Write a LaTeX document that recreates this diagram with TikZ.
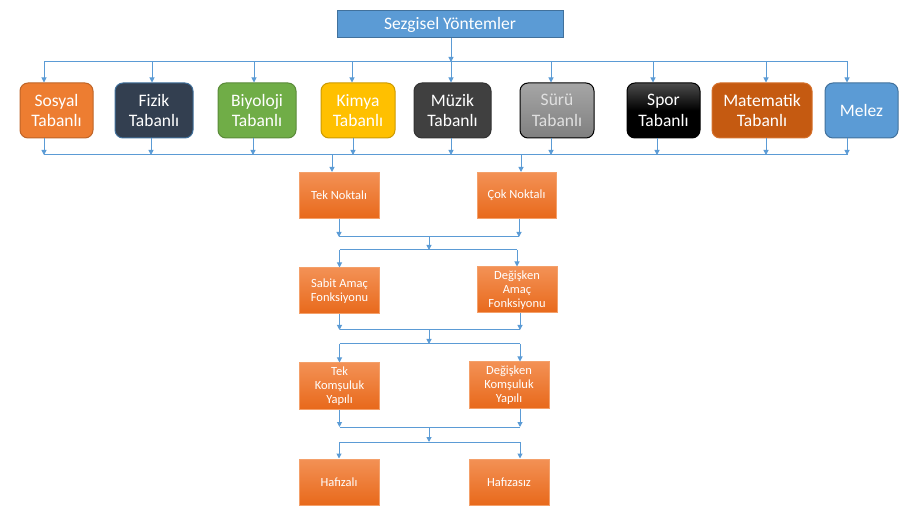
\documentclass[tikz,border=0pt]{standalone}
\usepackage{fontspec}
\setmainfont{Carlito}
\usetikzlibrary{arrows.meta,calc}
\definecolor{linkblue}{HTML}{5B9BD5}
\definecolor{edgeblue}{HTML}{41719C}
\definecolor{sosyalc}{HTML}{ED7D31}
\definecolor{fizikc}{HTML}{333F50}
\definecolor{biyoc}{HTML}{70AD47}
\definecolor{kimyac}{HTML}{FFC000}
\definecolor{muzikc}{HTML}{404040}
\definecolor{matc}{HTML}{C55A11}
\definecolor{orangetop}{HTML}{F39155}
\definecolor{orangebot}{HTML}{E8691B}
\definecolor{orangeedge}{HTML}{F4A06A}
\tikzset{
  arr/.style={draw=linkblue,line width=1pt,-{Triangle[width=5pt,length=5pt]}},
  bus/.style={draw=linkblue,line width=1pt},
  titlebox/.style={rectangle,fill=linkblue,draw=edgeblue,line width=1pt,text=white,
    font=\fontsize{17.5}{20}\selectfont,minimum width=226pt,minimum height=27pt,inner sep=0pt},
  rowbox/.style={rectangle,rounded corners=8pt,line width=1pt,text=white,align=center,
    font=\fontsize{17.5}{20.5}\selectfont,minimum height=55pt,inner sep=0pt},
  sosyalbox/.style={fill=sosyalc,draw=sosyalc!80!black},
  fizikbox/.style={fill=fizikc,draw=edgeblue},
  biyobox/.style={fill=biyoc,draw=biyoc!80!black},
  kimyabox/.style={fill=kimyac,draw=kimyac!80!black},
  muzikbox/.style={fill=muzikc,draw=muzikc!80!black},
  surubox/.style={top color=black!35,bottom color=black!50,draw=black,text=black!12},
  sporbox/.style={top color=black!70,bottom color=black,middle color=black,draw=black},
  matbox/.style={fill=matc,draw=sosyalc!90!black},
  melezbox/.style={fill=linkblue,draw=edgeblue},
  smallbox/.style={rectangle,top color=orangetop,bottom color=orangebot,draw=orangeedge,
    line width=1pt,text=white,align=center,font=\fontsize{12.5}{14}\selectfont,
    minimum width=80pt,minimum height=46pt,inner sep=0pt}
}
\begin{document}
\begin{tikzpicture}[x=1pt,y=-1pt]
\useasboundingbox (0,0) rectangle (910,510);
% top
\node[titlebox] (sezgisel) at (450,24.5) {Sezgisel Yöntemler};
\coordinate (top) at (451,62);
\coordinate (topl) at (44,62);
\coordinate (topr) at (848,62);
\draw[bus] (topl) -- (topr);
\draw[arr] (sezgisel.south -| top) -- (top);
% family row
\foreach \n/\cx/\w/\st/\txt/\xa/\xb in {
  sosyal/56.5/73/sosyalbox/{Sosyal\\Tabanlı}/44/44,
  fizik/154/78/fizikbox/{Fizik\\Tabanlı}/152/151,
  biyoloji/257/78/biyobox/{Biyoloji\\Tabanlı}/254/253,
  kimya/358/74/kimyabox/{Kimya\\Tabanlı}/352/353,
  muzik/452.5/77/muzikbox/{Müzik\\Tabanlı}/451/451,
  suru/557/74/surubox/{Sürü\\Tabanlı}/551/551,
  spor/663.5/73/sporbox/{Spor\\Tabanlı}/653/657,
  matematik/762/100/matbox/{Matematik\\Tabanlı}/766/766,
  melez/861.5/73/melezbox/{Melez}/847/847} {
  \node[rowbox,\st,minimum width=\w pt] (\n) at (\cx,110.5) {\txt};
  \coordinate (t\n) at (\xa,62);
  \coordinate (u\n) at (\xb,155);
  \draw[arr] (t\n) -- (t\n |- \n.north);
  \draw[arr] (u\n |- \n.south) -- (u\n);
}
\coordinate (botl) at (44,155);
\coordinate (botr) at (848,155);
\draw[bus] (botl) -- (botr);
% point count
\node[smallbox] (tek) at (339,195.5) {Tek Noktalı};
\node[smallbox,minimum width=79pt] (cok) at (516.5,195.5) {Çok Noktalı};
\coordinate (d1) at (332,155);
\coordinate (d2) at (521,155);
\draw[arr] (d1) -- (d1 |- tek.north);
\draw[arr] (d2) -- (d2 |- cok.north);
% objective
\node[smallbox] (sabit) at (339.5,291) {Sabit Amaç\\Fonksiyonu};
\node[smallbox] (degamac) at (517,290) {Değişken\\Amaç\\Fonksiyonu};
\coordinate (j1a) at (429,237);
\coordinate (j1b) at (429,250);
\draw[arr] (tek.south) -- (tek.south |- j1a);
\draw[arr] (cok.south) ++(2.5,0) coordinate (c1) -- (c1 |- j1a);
\draw[bus] (tek.south |- j1a) -- (c1 |- j1a);
\draw[arr] (j1a) -- (j1b);
\draw[bus] (sabit.north |- j1b) -- (degamac.north |- j1b);
\draw[arr] (sabit.north |- j1b) -- (sabit.north);
\draw[arr] (degamac.north |- j1b) -- (degamac.north);
% neighbourhood
\node[smallbox] (tekkom) at (339.5,386) {Tek\\Komşuluk\\Yapılı};
\node[smallbox] (degkom) at (509,385) {Değişken\\Komşuluk\\Yapılı};
\coordinate (j2a) at (429,330);
\coordinate (j2b) at (429,344);
\draw[arr] (sabit.south) -- (sabit.south |- j2a);
\draw[arr] (degamac.south) ++(3,0) coordinate (c2) -- (c2 |- j2a);
\draw[bus] (sabit.south |- j2a) -- (c2 |- j2a);
\draw[arr] (j2a) -- (j2b);
\coordinate (k2) at (520,344);
\draw[bus] (tekkom.north |- j2b) -- (k2);
\draw[arr] (tekkom.north |- j2b) -- (tekkom.north);
\draw[arr] (k2) -- (k2 |- degkom.north);
% memory
\node[smallbox] (hafizali) at (339,482) {Hafızalı};
\node[smallbox] (hafizasiz) at (509,482) {Hafızasız};
\coordinate (j3a) at (429,427);
\coordinate (j3b) at (429,442);
\coordinate (k3) at (520,427);
\coordinate (k4) at (520,442);
\draw[arr] (tekkom.south) -- (tekkom.south |- j3a);
\draw[arr] (k3 |- degkom.south) -- (k3);
\draw[bus] (tekkom.south |- j3a) -- (k3);
\draw[arr] (j3a) -- (j3b);
\draw[bus] (hafizali.north |- j3b) -- (k4);
\draw[arr] (hafizali.north |- j3b) -- (hafizali.north);
\draw[arr] (k4) -- (k4 |- hafizasiz.north);
\end{tikzpicture}
\end{document}
